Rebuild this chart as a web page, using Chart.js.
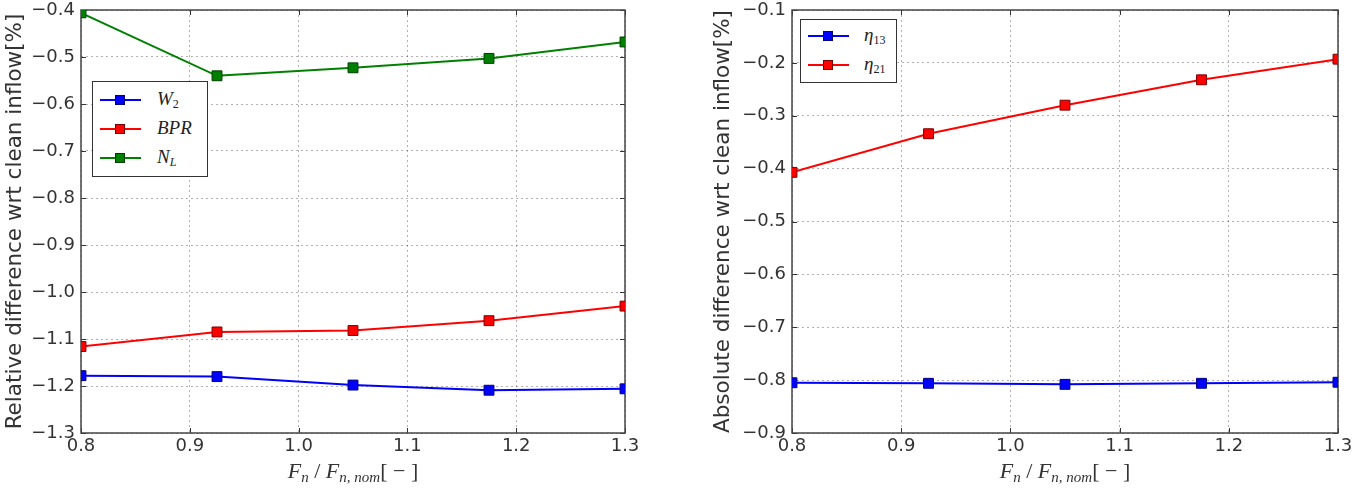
<!DOCTYPE html>
<html>
<head>
<meta charset="utf-8">
<script src="https://cdn.jsdelivr.net/npm/chart.js@4.4.1/dist/chart.umd.min.js"></script>
<style>
  html,body{margin:0;padding:0;background:#fff;}
  #wrap{position:relative;width:1354px;height:493px;overflow:hidden;font-family:"DejaVu Sans",sans-serif;}
  .cw{position:absolute;top:0;height:493px;}
  .legend{position:absolute;background:#fff;border:1.5px solid #333;box-sizing:border-box;}
  .row{position:absolute;left:0;height:20px;}
  .ln{position:absolute;left:7px;width:41px;height:2px;top:9px;}
  .mk{position:absolute;left:22px;top:5px;width:10px;height:10px;box-sizing:border-box;border:1px solid;}
  .tx{position:absolute;left:64px;top:-2px;font-family:"Liberation Serif",serif;font-style:italic;font-size:19px;color:#222;white-space:nowrap;}
  .tx sub{font-size:12px;vertical-align:-3px;}
  .tx sub.up{font-style:normal;}
  .xt{position:absolute;top:458px;font-family:"Liberation Serif",serif;font-size:22px;color:#333;white-space:nowrap;transform:translateX(-50%);}
  .xt i sub{font-size:15px;vertical-align:-4px;}
  .xt .br{font-style:normal;}
</style>
</head>
<body>
<div id="wrap">
  <div class="cw" style="left:0;width:711px;"><canvas id="c1"></canvas></div>
  <div class="cw" style="left:711px;width:643px;"><canvas id="c2"></canvas></div>

  <div class="legend" style="left:92px;top:81px;width:116px;height:96px;">
    <div class="row" style="top:8px;"><div class="ln" style="background:#0000ff"></div><div class="mk" style="background:#0000ff;border-color:#00007a"></div><div class="tx">W<sub class="up">2</sub></div></div>
    <div class="row" style="top:37px;"><div class="ln" style="background:#ff0000"></div><div class="mk" style="background:#ff0000;border-color:#7a0000"></div><div class="tx">BPR</div></div>
    <div class="row" style="top:66px;"><div class="ln" style="background:#008000"></div><div class="mk" style="background:#008000;border-color:#003d00"></div><div class="tx">N<sub>L</sub></div></div>
  </div>

  <div class="legend" style="left:800px;top:19px;width:97px;height:64px;">
    <div class="row" style="top:6px;"><div class="ln" style="background:#0000ff"></div><div class="mk" style="background:#0000ff;border-color:#00007a"></div><div class="tx" style="left:63px;">η<sub class="up">13</sub></div></div>
    <div class="row" style="top:35px;"><div class="ln" style="background:#ff0000"></div><div class="mk" style="background:#ff0000;border-color:#7a0000"></div><div class="tx" style="left:63px;">η<sub class="up">21</sub></div></div>
  </div>

  <div class="xt" style="left:353px;"><i>F<sub>n</sub></i> / <i>F<sub>n, nom</sub></i><span class="br">[ − ]</span></div>
  <div class="xt" style="left:1065px;"><i>F<sub>n</sub></i> / <i>F<sub>n, nom</sub></i><span class="br">[ − ]</span></div>
</div>
<script>
// ---- data ----
const xVals = [0.8, 0.925, 1.05, 1.175, 1.3];
const W2 = [-1.178, -1.180, -1.198, -1.209, -1.206];
const BPR = [-1.116, -1.085, -1.082, -1.061, -1.030];
const NL = [-0.406, -0.540, -0.523, -0.503, -0.468];
const eta13 = [-0.805, -0.806, -0.808, -0.806, -0.804];
const eta21 = [-0.407, -0.334, -0.280, -0.232, -0.193];
const xTicks = [0.8, 0.9, 1.0, 1.1, 1.2, 1.3];
const leftTitle = "Relative difference wrt clean inflow[%]";
const rightTitle = "Absolute difference wrt clean inflow[%]";

function pts(ys){ return xVals.map((x,i)=>({x:x,y:ys[i]})); }
function ds(label, ys, col, edge){
  return {label:label, data:pts(ys), borderColor:col, backgroundColor:col,
    borderWidth:2, pointStyle:'rect', pointRadius:7, pointHoverRadius:7,
    pointBackgroundColor:col, pointBorderColor:edge, pointBorderWidth:1, tension:0};
}
const fmt = v => (Math.round(v*10)/10).toFixed(1).replace('-', '\u2212');

const framePlugin = {
  id:'frame',
  beforeDatasetsDraw(chart){
    const {ctx, chartArea:a, scales} = chart;
    ctx.save();
    ctx.strokeStyle = '#333'; ctx.lineWidth = 1;
    const tl = 5;
    scales.x.ticks.forEach(t=>{
      const px = Math.round(scales.x.getPixelForValue(t.value))+0.5;
      ctx.beginPath(); ctx.moveTo(px,a.bottom); ctx.lineTo(px,a.bottom-tl);
      ctx.moveTo(px,a.top); ctx.lineTo(px,a.top+tl); ctx.stroke();
    });
    scales.y.ticks.forEach(t=>{
      const py = Math.round(scales.y.getPixelForValue(t.value))+0.5;
      ctx.beginPath(); ctx.moveTo(a.left,py); ctx.lineTo(a.left+tl,py);
      ctx.moveTo(a.right,py); ctx.lineTo(a.right-tl,py); ctx.stroke();
    });
    ctx.strokeStyle = '#444'; ctx.lineWidth = 1.5;
    ctx.strokeRect(a.left, a.top, a.right-a.left, a.bottom-a.top);
    ctx.restore();
  }
};

function makeChart(id, datasets, ymin, ymax, title, padRight, titlePad){
  new Chart(document.getElementById(id), {
    type:'line',
    data:{datasets:datasets},
    plugins:[framePlugin],
    options:{
      responsive:true, maintainAspectRatio:false, animation:false,
      layout:{padding:{top:10, right:padRight, left:0, bottom:0}},
      plugins:{legend:{display:false}, tooltip:{enabled:false}},
      scales:{
        x:{type:'linear', min:0.8, max:1.3,
          afterBuildTicks: s => { s.ticks = xTicks.map(v=>({value:v})); },
          afterFit: s => { s.height = 60; s.paddingLeft = 0; s.paddingRight = 0; },
          ticks:{callback: v=>fmt(v), color:'#333', font:{family:'DejaVu Sans', size:18}, padding:3, maxRotation:0, autoSkip:false},
          grid:{color:'rgba(0,0,0,0.3)', lineWidth:1, drawTicks:false},
          border:{display:false, dash:[2,3]}
        },
        y:{type:'linear', min:ymin, max:ymax,
          afterBuildTicks: s => { const t=[]; for(let v=Math.round(ymin*10); v<=Math.round(ymax*10); v++) t.push({value:v/10}); s.ticks=t; },
          afterFit: s => { s.width = 81; s.paddingTop = 0; s.paddingBottom = 0; },
          ticks:{callback: v=>fmt(v), color:'#333', font:{family:'DejaVu Sans', size:18}, padding:6, autoSkip:false},
          grid:{color:'rgba(0,0,0,0.3)', lineWidth:1, drawTicks:false},
          border:{display:false, dash:[2,3]},
          title:{display:true, text:title, color:'#333', font:{family:'DejaVu Sans', size:21.5}, padding:{top:titlePad,bottom:0}}
        }
      }
    }
  });
}

makeChart('c1', [
  ds('W2', W2, '#0000ff', '#00007a'),
  ds('BPR', BPR, '#ff0000', '#7a0000'),
  ds('NL', NL, '#008000', '#003d00')
], -1.3, -0.4, leftTitle, 86, 3);

makeChart('c2', [
  ds('eta13', eta13, '#0000ff', '#00007a'),
  ds('eta21', eta21, '#ff0000', '#7a0000')
], -0.9, -0.1, rightTitle, 16, 0);
</script>
</body>
</html>
